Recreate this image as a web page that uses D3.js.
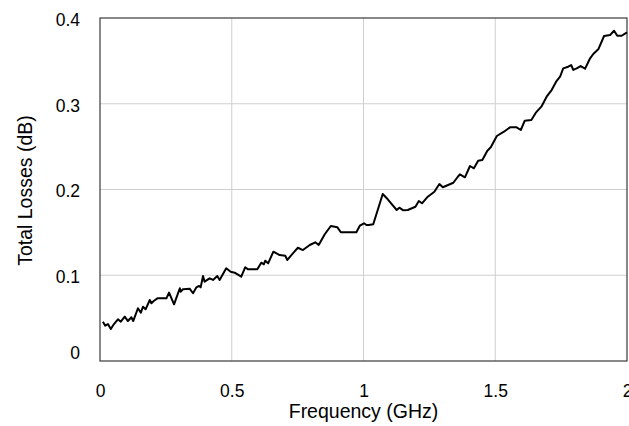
<!DOCTYPE html>
<html>
<head>
<meta charset="utf-8">
<script src="https://cdn.jsdelivr.net/npm/d3@7"></script>
<style>
  html, body { margin: 0; padding: 0; background: #fff; }
  svg { display: block; }
  text { font-family: Arial, "Liberation Sans", sans-serif; fill: #000; }
</style>
</head>
<body>
<svg id="chart" width="629" height="426"></svg>
<script>
// Measured total losses versus frequency
const frequencyGHz = [
  0.011, 0.020, 0.030, 0.041, 0.053, 0.068, 0.079, 0.094, 0.106, 0.119,
  0.126, 0.144, 0.155, 0.163, 0.173, 0.189, 0.195, 0.205, 0.218, 0.252,
  0.262, 0.281, 0.303, 0.306, 0.315, 0.340, 0.353, 0.366, 0.376, 0.382,
  0.391, 0.397, 0.416, 0.429, 0.445, 0.454, 0.479, 0.496, 0.511, 0.536,
  0.551, 0.562, 0.597, 0.612, 0.622, 0.627, 0.638, 0.658, 0.682, 0.703,
  0.711, 0.732, 0.751, 0.770, 0.796, 0.817, 0.830, 0.853, 0.876, 0.901,
  0.914, 0.973, 0.986, 1.002, 1.011, 1.020, 1.037, 1.073, 1.092, 1.126,
  1.136, 1.151, 1.168, 1.197, 1.210, 1.222, 1.244, 1.269, 1.288, 1.301,
  1.341, 1.358, 1.366, 1.385, 1.404, 1.419, 1.435, 1.451, 1.470, 1.483,
  1.506, 1.533, 1.556, 1.581, 1.597, 1.612, 1.637, 1.654, 1.675, 1.695,
  1.714, 1.731, 1.746, 1.758, 1.777, 1.788, 1.796, 1.809, 1.824, 1.841,
  1.860, 1.872, 1.891, 1.913, 1.936, 1.951, 1.963, 1.980, 2.000
];
const totalLossDB = [
  0.0458, 0.0412, 0.0431, 0.0373, 0.0431, 0.0486, 0.0458, 0.0517, 0.0466, 0.0510,
  0.0466, 0.0615, 0.0563, 0.0633, 0.0603, 0.0711, 0.0673, 0.0703, 0.0731, 0.0731,
  0.0797, 0.0661, 0.0848, 0.0808, 0.0836, 0.0843, 0.0790, 0.0859, 0.0875, 0.0859,
  0.0991, 0.0925, 0.0964, 0.0945, 0.0991, 0.0945, 0.1081, 0.1041, 0.1030, 0.0983,
  0.1093, 0.1069, 0.1069, 0.1146, 0.1128, 0.1170, 0.1139, 0.1275, 0.1236, 0.1228,
  0.1178, 0.1256, 0.1321, 0.1294, 0.1353, 0.1384, 0.1353, 0.1478, 0.1574, 0.1559,
  0.1501, 0.1501, 0.1578, 0.1606, 0.1586, 0.1586, 0.1594, 0.1948, 0.1886, 0.1761,
  0.1788, 0.1757, 0.1761, 0.1799, 0.1866, 0.1839, 0.1916, 0.1974, 0.2064, 0.2026,
  0.2079, 0.2149, 0.2177, 0.2142, 0.2274, 0.2247, 0.2336, 0.2344, 0.2452, 0.2492,
  0.2624, 0.2674, 0.2725, 0.2725, 0.2694, 0.2802, 0.2810, 0.2896, 0.2966, 0.3082,
  0.3160, 0.3257, 0.3315, 0.3413, 0.3432, 0.3452, 0.3394, 0.3413, 0.3440, 0.3409,
  0.3530, 0.3580, 0.3635, 0.3790, 0.3802, 0.3852, 0.3793, 0.3793, 0.3833
];
const xTicks = [0, 0.5, 1, 1.5, 2];
const yTicks = [0, 0.1, 0.2, 0.3, 0.4];
const xTitle = "Frequency (GHz)";
const yTitle = "Total Losses (dB)";

const svg = d3.select("#chart");
const margin = { left: 100, right: 2, top: 18, bottom: 65 };
const W = 629, H = 426;
const innerW = W - margin.left - margin.right;
const innerH = H - margin.top - margin.bottom;

const x = d3.scaleLinear().domain([0, 2]).range([0, innerW]);
const y = d3.scaleLinear().domain([0, 0.4]).range([innerH, 0]);

const g = svg.append("g").attr("transform", `translate(${margin.left},${margin.top})`);

// Grid lines
g.append("g")
  .selectAll("line")
  .data(xTicks.filter(t => t > 0 && t < 2))
  .join("line")
  .attr("x1", d => x(d)).attr("x2", d => x(d))
  .attr("y1", 0).attr("y2", innerH)
  .attr("stroke", "#cfcfcf").attr("stroke-width", 1);
g.append("g")
  .selectAll("line")
  .data(yTicks.filter(t => t > 0 && t < 0.4))
  .join("line")
  .attr("x1", 0).attr("x2", innerW)
  .attr("y1", d => y(d)).attr("y2", d => y(d))
  .attr("stroke", "#cfcfcf").attr("stroke-width", 1);

// Axes (labels only; frame drawn separately)
const xAxis = g.append("g")
  .attr("transform", `translate(0,${innerH})`)
  .call(d3.axisBottom(x).tickValues(xTicks).tickSize(0).tickPadding(24).tickFormat(d3.format("")));
xAxis.select(".domain").remove();
xAxis.selectAll("text").attr("font-size", "17.5px").attr("fill", "#000");

const yAxis = g.append("g")
  .call(d3.axisLeft(y).tickValues(yTicks).tickSize(0).tickPadding(20).tickFormat(d3.format("")));
yAxis.select(".domain").remove();
yAxis.selectAll("text").attr("font-size", "17.5px").attr("fill", "#000")
  .attr("dy", d => d === 0 ? "-0.15em" : "0.42em");

// Plot frame
g.append("rect")
  .attr("x", 0).attr("y", 0)
  .attr("width", innerW).attr("height", innerH)
  .attr("fill", "none").attr("stroke", "#3a3a3a").attr("stroke-width", 1.2);

// Data line
const pts = frequencyGHz.map((f, i) => [f, totalLossDB[i]]);
g.append("path")
  .datum(pts)
  .attr("fill", "none")
  .attr("stroke", "#000")
  .attr("stroke-width", 2)
  .attr("stroke-linejoin", "round")
  .attr("d", d3.line().x(d => x(d[0])).y(d => y(d[1])));

// Axis titles
svg.append("text")
  .attr("x", margin.left + innerW / 2).attr("y", 418)
  .attr("text-anchor", "middle").attr("font-size", "19.5px")
  .text(xTitle);
svg.append("text")
  .attr("transform", `translate(32,${margin.top + innerH / 2 + 1}) rotate(-90)`)
  .attr("text-anchor", "middle").attr("font-size", "19.5px")
  .text(yTitle);
</script>
</body>
</html>
